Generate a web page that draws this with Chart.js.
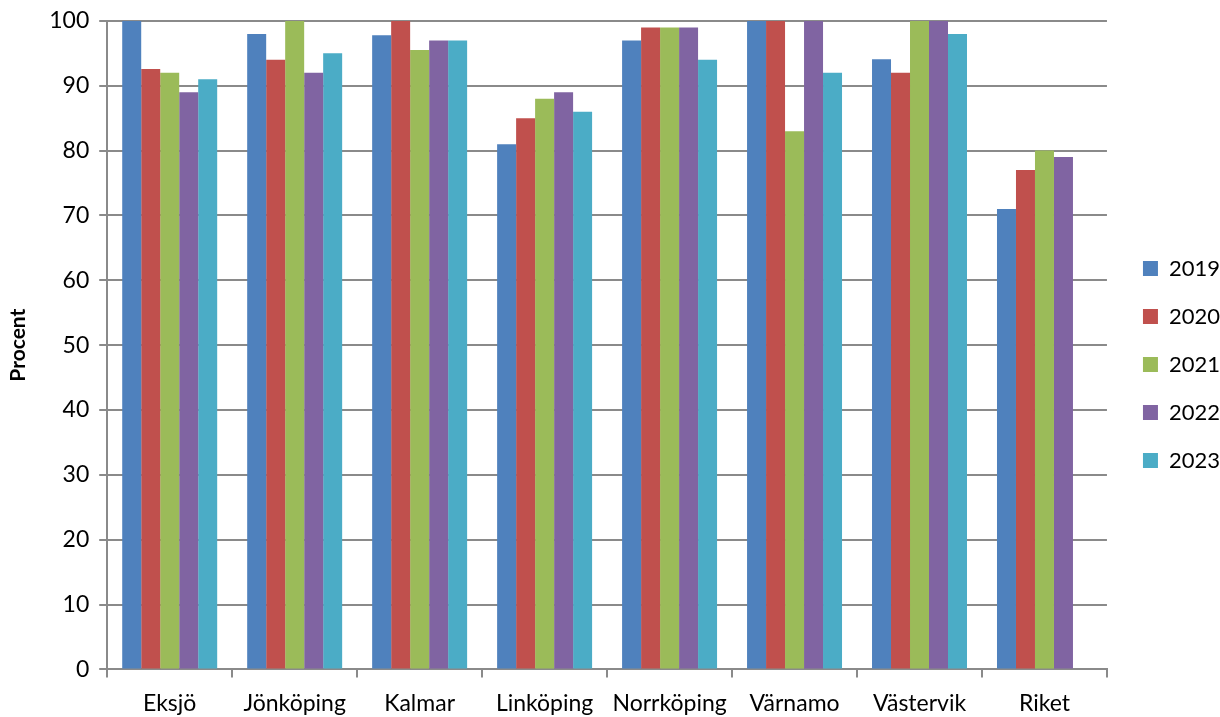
<!DOCTYPE html>
<html>
<head>
<meta charset="utf-8">
<script src="https://cdn.jsdelivr.net/npm/chart.js@4"></script>
<style>
    html, body { margin: 0; padding: 0; background: #fff; }
    #wrap { width: 1220px; height: 717px; position: relative; }
</style>
</head>
<body>
<div id="wrap"><canvas id="procentChart"></canvas></div>
<script>
const orter = ['Eksjö', 'Jönköping', 'Kalmar', 'Linköping', 'Norrköping', 'Värnamo', 'Västervik', 'Riket'];
const ar = ['2019', '2020', '2021', '2022', '2023'];
const varden2019 = [100, 98, 97.8, 81, 97, 100, 94.1, 71];
const varden2020 = [92.6, 94, 100, 85, 99, 100, 92, 77];
const varden2021 = [92, 100, 95.5, 88, 99, 83, 100, 80];
const varden2022 = [89, 92, 97, 89, 99, 100, 100, 79];
const varden2023 = [91, 95, 97, 86, 94, 92, 98, null];
const farger = ['#4F81BD', '#C0504D', '#9BBB59', '#8064A2', '#4BACC6'];

const serier = [varden2019, varden2020, varden2021, varden2022, varden2023];
const gridColor = '#8a8a8a';
const family = 'Lato, "Liberation Sans", sans-serif';
const font = { family: family, size: 23 };

// nudge the legend a bit away from the plot area
const legendShift = {
    id: 'legendShift',
    afterLayout(chart) {
        const lg = chart.legend;
        if (!lg) return;
        lg.left += 10; lg.right += 10;
        lg.top -= 9; lg.bottom -= 9;
    }
};

new Chart(document.getElementById('procentChart').getContext('2d'), {
    type: 'bar',
    data: {
        labels: orter,
        datasets: serier.map((values, i) => ({
            label: ar[i],
            data: values,
            backgroundColor: farger[i],
            borderWidth: 0,
            categoryPercentage: 0.76,
            barPercentage: 1.0,
        }))
    },
    plugins: [legendShift],
    options: {
        responsive: true,
        maintainAspectRatio: false,
        animation: false,
        layout: { padding: { top: 18, right: 0, left: 6, bottom: -12 } },
        plugins: {
            legend: {
                position: 'right',
                labels: {
                    font: { family: family, size: 22 },
                    color: '#000',
                    boxWidth: 15,
                    boxHeight: 15,
                    padding: 26,
                }
            },
            tooltip: { enabled: false }
        },
        scales: {
            y: {
                min: 0,
                max: 100,
                ticks: { stepSize: 10, font: { family: family, size: 23, lineHeight: 0.95 }, color: '#000', padding: 10 },
                grid: { color: gridColor, lineWidth: 2, tickLength: 8 },
                border: { color: gridColor, width: 2 },
                title: {
                    display: true,
                    text: 'Procent',
                    color: '#000',
                    font: { family: family, size: 21, weight: 'bold' },
                    padding: { top: 0, bottom: 8 }
                }
            },
            x: {
                ticks: { font: font, color: '#000', padding: 12 },
                grid: { drawOnChartArea: false, color: gridColor, lineWidth: 2, tickLength: 8, offset: true },
                border: { color: gridColor, width: 2 }
            }
        }
    }
});
</script>
</body>
</html>
